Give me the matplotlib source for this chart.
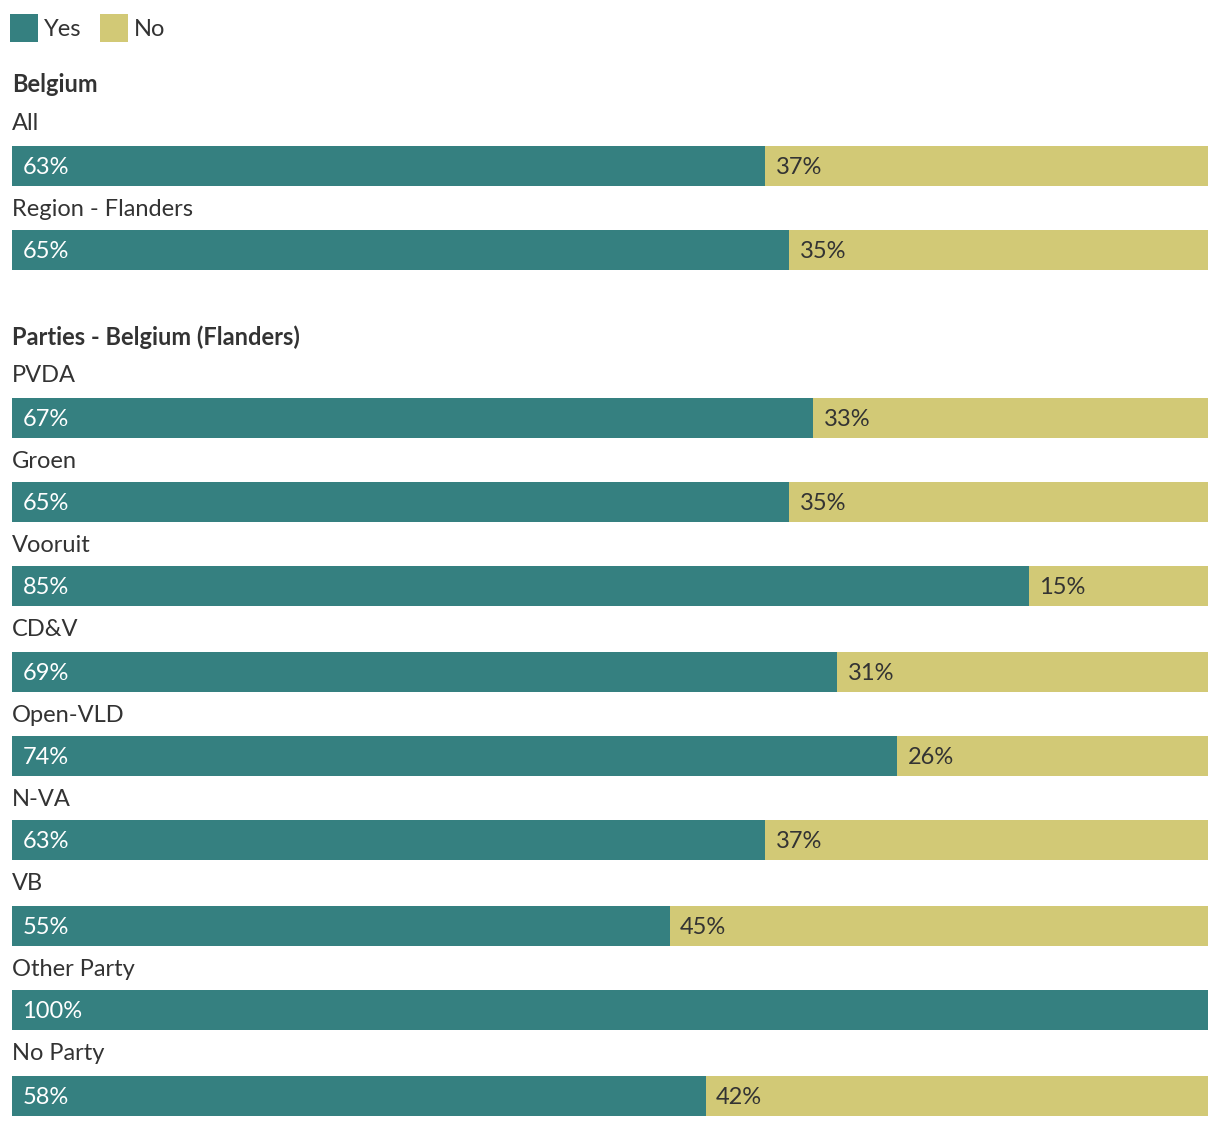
import matplotlib
matplotlib.use("Agg")
import matplotlib.pyplot as plt
from matplotlib.patches import Rectangle
from matplotlib.transforms import offset_copy

plt.rcParams['font.family'] = ['Lato', 'DejaVu Sans']

groups = ["Belgium", "Parties - Belgium (Flanders)"]
categories = [["All", "Region - Flanders"],
              ["PVDA", "Groen", "Vooruit", "CD&V", "Open-VLD", "N-VA", "VB", "Other Party", "No Party"]]
yes_values = [[63, 65], [67, 65, 85, 69, 74, 63, 55, 100, 58]]
no_values = [[37, 35], [33, 35, 15, 31, 26, 37, 45, 0, 42]]
series = ["Yes", "No"]

YES_C = "#358080"
NO_C = "#D2C976"
TXT = "#333333"

W, H = 1220, 1126
fig = plt.figure(figsize=(W / 100, H / 100), dpi=100)
ax = fig.add_axes([12 / W, 0, 1196 / W, 1])
ax.set_xlim(0, 100)
ax.set_ylim(H, 0)
ax.axis("off")

# layout in pixel rows
group_y = [85, 337]
bar_centers = [[166, 250], [418, 502, 586, 672, 756, 840, 926, 1010, 1096]]
bar_h = 40
dy = 2  # text nudge down

for g, gname in enumerate(groups):
    ax.text(0, group_y[g], gname, fontsize=17, fontweight="bold", color=TXT,
            va="center", ha="left")
    for i, cat in enumerate(categories[g]):
        yc = bar_centers[g][i]
        y_val, n_val = yes_values[g][i], no_values[g][i]
        ax.barh(yc, y_val, height=bar_h, left=0, color=YES_C, linewidth=0)
        if n_val > 0:
            ax.barh(yc, n_val, height=bar_h, left=y_val, color=NO_C, linewidth=0)
        if i == 0:
            ly = yc - 44 + dy
        else:
            ly = bar_centers[g][i - 1] + bar_h / 2 + 24
        ax.text(0, ly, cat, fontsize=17, color=TXT, va="center", ha="left")
        tr = offset_copy(ax.transData, fig=fig, x=7.5, y=0, units="points")
        ax.text(0, yc + dy, f"{y_val}%", fontsize=17, color="white", va="center",
                ha="left", transform=tr)
        if n_val > 0:
            tr2 = offset_copy(ax.transData, fig=fig, x=7.5, y=0, units="points")
            ax.text(y_val, yc + dy, f"{n_val}%", fontsize=17, color=TXT, va="center",
                    ha="left", transform=tr2)

# legend (figure pixel coords)
def px(x, y):
    return x / W, 1 - y / H

for (x0, col, lab) in [(10, YES_C, series[0]), (100, NO_C, series[1])]:
    fig.patches.append(Rectangle(px(x0, 42), 28 / W, 28 / H, transform=fig.transFigure,
                                 facecolor=col, edgecolor="none"))
    fig.text(*px(x0 + 34, 30), lab, fontsize=17, color=TXT, va="center", ha="left")

fig.savefig("out.png", dpi=100, facecolor="white")
